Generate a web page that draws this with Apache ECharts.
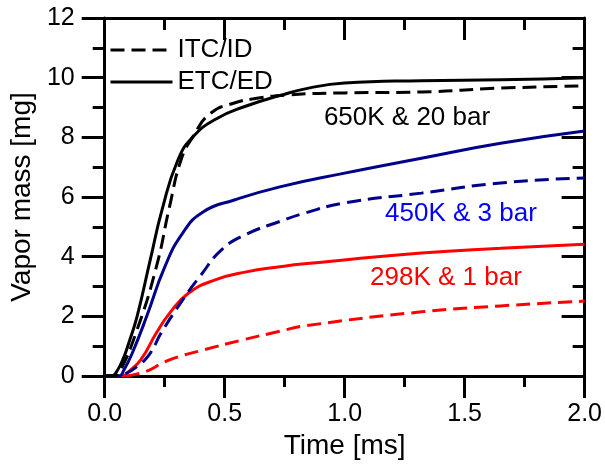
<!DOCTYPE html>
<html>
<head>
<meta charset="utf-8">
<script src="https://cdn.jsdelivr.net/npm/echarts@6/dist/echarts.min.js"></script>
<style>
html,body{margin:0;padding:0;background:#fff;}
#chart{width:605px;height:465px;}
</style>
</head>
<body>
<div id="chart"></div>
<script>
// ---- data ----
const xTicks = ['0.0', '0.5', '1.0', '1.5', '2.0'];
const yTicks = ['0', '2', '4', '6', '8', '10', '12'];

const t650etc = [0, 0.03, 0.05, 0.08, 0.10, 0.135, 0.19, 0.24, 0.305, 0.366, 0.46, 0.59, 0.73, 0.85, 1.0, 1.32, 1.65, 2.0];
const m650etc = [0, 0, 0.15, 0.64, 1.1, 2.0, 3.9, 5.6, 7.24, 8.0, 8.6, 9.05, 9.4, 9.65, 9.82, 9.9, 9.93, 10.0];

const t650itc = [0, 0.04, 0.06, 0.13, 0.215, 0.27, 0.318, 0.366, 0.44, 0.54, 0.62, 0.76, 1.0, 1.32, 1.65, 2.0];
const m650itc = [0, 0, 0.1, 1.44, 3.65, 5.67, 7.24, 8.0, 8.8, 9.15, 9.29, 9.42, 9.49, 9.52, 9.65, 9.72];

const t450etc = [0, 0.06, 0.08, 0.115, 0.175, 0.25, 0.325, 0.41, 0.54, 0.73, 1.0, 1.32, 1.65, 2.0];
const m450etc = [0, 0, 0.2, 0.77, 2.0, 3.65, 4.79, 5.5, 5.9, 6.34, 6.8, 7.3, 7.8, 8.21];

const t450itc = [0, 0.05, 0.08, 0.14, 0.19, 0.235, 0.325, 0.395, 0.49, 0.59, 0.73, 0.833, 1.0, 1.32, 1.65, 2.0];
const m450itc = [0, 0, 0.05, 0.35, 0.77, 1.44, 2.55, 3.32, 4.25, 4.75, 5.18, 5.46, 5.8, 6.13, 6.47, 6.64];

const t298etc = [0, 0.07, 0.10, 0.15, 0.215, 0.27, 0.35, 0.46, 0.59, 0.73, 0.833, 1.32, 1.65, 2.0];
const m298etc = [0, 0, 0.15, 0.54, 1.44, 2.1, 2.78, 3.22, 3.49, 3.66, 3.76, 4.12, 4.28, 4.42];

const t298itc = [0, 0.05, 0.15, 0.27, 0.41, 0.57, 0.73, 0.833, 1.32, 1.65, 2.0];
const m298itc = [0, 0, 0.1, 0.54, 0.87, 1.2, 1.5, 1.68, 2.15, 2.35, 2.51];

const legendNames = ['ITC/ID', 'ETC/ED'];
const annotations = ['650K & 20 bar', '450K & 3 bar', '298K & 1 bar'];

// ---- chart ----
const FONT = '"Liberation Sans", Arial, sans-serif';
const pair = (t, m) => t.map((v, i) => [v, m[i]]);

function lineSeries(name, t, m, color, dashed) {
  return {
    name: name, type: 'line', xAxisIndex: 0, yAxisIndex: 0,
    data: pair(t, m), showSymbol: false, symbol: 'none',
    smooth: 0.5, clip: true, z: 3,
    lineStyle: { color: color, width: 3, type: dashed ? [14, 7] : 'solid' },
    itemStyle: { color: color }
  };
}

const axisLineStyle = { color: '#000', width: 3 };
function xAx(pos) {
  const bottom = pos === 'bottom';
  return {
    type: 'value', position: pos, min: 0, max: 2, interval: 0.5,
    axisLine: { show: true, onZero: false, lineStyle: axisLineStyle },
    axisTick: { show: true, inside: !bottom, length: 22, lineStyle: { color: '#000', width: 3 } },
    minorTick: { show: true, splitNumber: 2, length: bottom ? 11 : 12, lineStyle: { color: '#000', width: 3 } },
    splitLine: { show: false }, minorSplitLine: { show: false },
    axisLabel: { show: bottom, fontSize: 25, color: '#000', fontFamily: FONT, margin: 26,
      formatter: v => xTicks[Math.round(v / 0.5)] },
    name: bottom ? 'Time [ms]' : '', nameLocation: 'middle', nameGap: 53,
    nameTextStyle: { fontSize: 28, color: '#000', fontFamily: FONT }
  };
}
function yAx(pos) {
  const left = pos === 'left';
  return {
    type: 'value', position: pos, min: 0, max: 12, interval: 2,
    axisLine: { show: true, onZero: false, lineStyle: axisLineStyle },
    axisTick: { show: true, inside: !left, length: 23, lineStyle: { color: '#000', width: 3 } },
    minorTick: { show: true, splitNumber: 2, length: 12, lineStyle: { color: '#000', width: 3 } },
    splitLine: { show: false }, minorSplitLine: { show: false },
    axisLabel: { show: left, fontSize: 25, color: '#000', fontFamily: FONT, margin: 30,
      formatter: v => yTicks[Math.round(v / 2)] },
    name: left ? 'Vapor mass [mg]' : '', nameLocation: 'middle', nameGap: 52,
    nameTextStyle: { fontSize: 28, color: '#000', fontFamily: FONT }
  };
}

const chart = echarts.init(document.getElementById('chart'), null, { renderer: 'canvas' });
chart.setOption({
  animation: false,
  backgroundColor: '#fff',
  grid: { left: 95, right: 18, top: 18, bottom: 89, containLabel: false },
  xAxis: [xAx('bottom'), xAx('top')],
  yAxis: [yAx('left'), yAx('right')],
  legend: {
    data: legendNames, orient: 'vertical', left: 104, top: 32,
    itemWidth: 62, itemHeight: 14, itemGap: 6,
    lineStyle: { width: 3 },
    itemStyle: { opacity: 0 },
    textStyle: { fontSize: 26, color: '#000', fontFamily: FONT, lineHeight: 26 },
    selectedMode: false
  },
  series: [
    lineSeries('298K ITC', t298itc, m298itc, '#ff0000', true),
    lineSeries('298K ETC', t298etc, m298etc, '#ff0000', false),
    lineSeries('450K ITC', t450itc, m450itc, '#00008b', true),
    lineSeries('450K ETC', t450etc, m450etc, '#00008b', false),
    lineSeries(legendNames[0], t650itc, m650itc, '#000000', true),
    lineSeries(legendNames[1], t650etc, m650etc, '#000000', false)
  ],
  graphic: [
    { type: 'text', x: 407, y: 118, style: { text: annotations[0], fill: '#000', font: '26px ' + FONT, align: 'center', verticalAlign: 'middle' } },
    { type: 'text', x: 461, y: 214, style: { text: annotations[1], fill: '#0000ff', font: '26px ' + FONT, align: 'center', verticalAlign: 'middle' } },
    { type: 'text', x: 446, y: 278, style: { text: annotations[2], fill: '#ff0000', font: '26px ' + FONT, align: 'center', verticalAlign: 'middle' } }
  ]
});
</script>
</body>
</html>
